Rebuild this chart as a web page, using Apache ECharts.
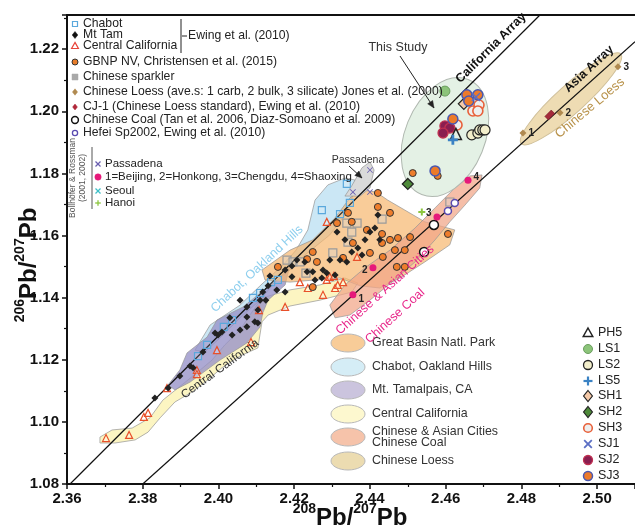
<!DOCTYPE html>
<html><head><meta charset="utf-8">
<script src="https://cdn.jsdelivr.net/npm/echarts/dist/echarts.min.js"></script>
<style>html,body{margin:0;padding:0;background:#fff}#c{width:635px;height:525px}</style>
</head><body><div id="c"></div>
<script>
// ---------- axes ----------
const xRange = [2.36, 2.51];
const yRange = [1.08, 1.231];
const tickStep = 0.02;

// ---------- reference arrays ----------
const californiaArray = [[2.3608, 1.080], [2.4849, 1.231]];
const asiaArray = [[2.380, 1.080], [2.510, 1.2224]];

// ---------- shaded fields (data coords) ----------
const centralCalRegion = [[2.3687,1.0951],[2.3719,1.0974],[2.3772,1.0980],[2.3819,1.1013],[2.3853,1.1070],[2.3893,1.1109],[2.3946,1.1161],[2.3983,1.1199],[2.4017,1.1248],[2.4057,1.1296],[2.4083,1.1344],[2.4115,1.1399],[2.4189,1.1425],[2.4268,1.1441],[2.4334,1.1463],[2.4368,1.1447],[2.4352,1.1418],[2.4268,1.1392],[2.4189,1.1373],[2.4131,1.1344],[2.4115,1.1322],[2.4104,1.1238],[2.4057,1.1212],[2.4009,1.1174],[2.3972,1.1135],[2.3930,1.1096],[2.3885,1.1064],[2.3846,1.1013],[2.3814,1.0967],[2.3780,1.0942],[2.3727,1.0932],[2.3687,1.0932]];
const chabotRegion = [[2.3938,1.1231],[2.3978,1.1312],[2.4057,1.1376],[2.4115,1.1444],[2.4168,1.1502],[2.4205,1.1553],[2.4236,1.1618],[2.4255,1.1714],[2.4289,1.1763],[2.4334,1.1785],[2.4360,1.1779],[2.4352,1.1714],[2.4334,1.1666],[2.4294,1.1602],[2.4228,1.1537],[2.4189,1.1489],[2.4149,1.1450],[2.4110,1.1392],[2.4057,1.1335],[2.4004,1.1270],[2.3964,1.1225]];
const mtTamRegion = [[2.3867,1.1119],[2.3898,1.1167],[2.3917,1.1222],[2.3970,1.1273],[2.3996,1.1328],[2.4065,1.1370],[2.4110,1.1415],[2.4162,1.1463],[2.4189,1.1505],[2.4176,1.1441],[2.4131,1.1392],[2.4117,1.1351],[2.4110,1.1306],[2.4075,1.1254],[2.4004,1.1199],[2.3925,1.1128],[2.3885,1.1103]];
const greatBasinRegion = [[2.4115,1.1489],[2.4189,1.1553],[2.4249,1.1586],[2.4308,1.1657],[2.4347,1.1721],[2.4379,1.1747],[2.4416,1.1740],[2.4447,1.1714],[2.4492,1.1682],[2.4545,1.1644],[2.4624,1.1618],[2.4611,1.1570],[2.4545,1.1515],[2.4479,1.1463],[2.4426,1.1431],[2.4374,1.1438],[2.4321,1.1463],[2.4255,1.1457],[2.4189,1.1450],[2.4123,1.1457]];
const asianCitiesRegion = [[2.4294,1.1376],[2.4334,1.1441],[2.4387,1.1496],[2.4453,1.1553],[2.4519,1.1624],[2.4572,1.1689],[2.4624,1.1753],[2.4664,1.1792],[2.4696,1.1795],[2.4690,1.1753],[2.4651,1.1698],[2.4611,1.1644],[2.4572,1.1586],[2.4519,1.1515],[2.4458,1.1450],[2.4400,1.1392],[2.4347,1.1344],[2.4308,1.1335]];
const passadenaRegion = [[2.4334,1.1727],[2.4352,1.1760],[2.4379,1.1818],[2.4400,1.1837],[2.4411,1.1811],[2.4400,1.1753],[2.4374,1.1727]];
const thisStudyCenter = [2.4598, 1.1917];
const loessCenter = [2.4931, 1.2040];

// ---------- literature data ----------
const chabot = [[2.4339,1.1766],[2.4347,1.1705],[2.4273,1.1682],[2.4321,1.1669],[2.4157,1.1457],[2.4139,1.1450],[2.4110,1.1415],[2.4091,1.1399],[2.4036,1.1328],[2.4014,1.1306],[2.3970,1.1248],[2.3946,1.1212]];
const mtTam = [[2.3832,1.1077],[2.3867,1.1109],[2.3898,1.1148],[2.3925,1.1180],[2.3933,1.1174],[2.3959,1.1225],[2.3991,1.1286],[2.3999,1.1280],[2.4009,1.1289],[2.4036,1.1280],[2.4057,1.1296],[2.4075,1.1370],[2.4075,1.1338],[2.4075,1.1306],[2.4096,1.1322],[2.4104,1.1318],[2.4104,1.1360],[2.4110,1.1392],[2.4117,1.1418],[2.4125,1.1392],[2.4131,1.1438],[2.4154,1.1425],[2.4176,1.1418],[2.4194,1.1467],[2.4194,1.1502],[2.4207,1.1521],[2.4228,1.1515],[2.4234,1.1483],[2.4249,1.1483],[2.4255,1.1457],[2.4273,1.1463],[2.4276,1.1489],[2.4286,1.1479],[2.4294,1.1521],[2.4313,1.1611],[2.4321,1.1521],[2.4339,1.1515],[2.4352,1.1547],[2.4368,1.1560],[2.4379,1.1537],[2.4387,1.1586],[2.4400,1.1611],[2.4413,1.1624],[2.4421,1.1666],[2.4426,1.1586],[2.4334,1.1586],[2.4308,1.1473],[2.4176,1.1489],[2.4136,1.1470],[2.4057,1.1392],[2.4030,1.1335]];
const centralCal = [[2.3703,1.0948],[2.3764,1.0958],[2.3803,1.1016],[2.3814,1.1029],[2.3864,1.1109],[2.3943,1.1167],[2.3943,1.1154],[2.3996,1.1231],[2.4086,1.1257],[2.4107,1.1360],[2.4176,1.1370],[2.4215,1.1450],[2.4236,1.1431],[2.4276,1.1409],[2.4286,1.1457],[2.4294,1.1467],[2.4305,1.1470],[2.4308,1.1431],[2.4315,1.1441],[2.4329,1.1450],[2.4286,1.1644],[2.4366,1.1531]];
const gbnp = [[2.4157,1.1499],[2.4234,1.1524],[2.4249,1.1547],[2.4260,1.1515],[2.4249,1.1434],[2.4313,1.1640],[2.4329,1.1528],[2.4342,1.1673],[2.4352,1.1644],[2.4355,1.1576],[2.4392,1.1618],[2.4421,1.1737],[2.4421,1.1692],[2.4453,1.1673],[2.4432,1.1605],[2.4432,1.1576],[2.4453,1.1586],[2.4474,1.1592],[2.4506,1.1595],[2.4400,1.1544],[2.4434,1.1531],[2.4466,1.1553],[2.4492,1.1553],[2.4471,1.1499],[2.4492,1.1499],[2.4606,1.1605],[2.4513,1.1801],[2.4579,1.1792]];
const sparkler = [[2.4181,1.1521],[2.4197,1.1515],[2.4215,1.1515],[2.4231,1.1479],[2.4302,1.1544],[2.4339,1.1640],[2.4352,1.1611],[2.4342,1.1579],[2.4366,1.1640],[2.4432,1.1653],[2.4611,1.1708]];
const chineseLoess = [{value:[2.4804,1.1930],name:'1'},{value:[2.4902,1.1995],name:'2'},{value:[2.5055,1.2143],name:'3'}];
const cj1 = [[2.4875,1.1988]];
const chineseCoal = [[2.4569,1.1634],[2.4543,1.1547]];
const hefei = [[2.4624,1.1705],[2.4606,1.1679]];
const passadena = [[2.4400,1.1811],[2.4355,1.1740],[2.4400,1.1740]];
const cities = [{value:[2.4355,1.1409],name:'1'},{value:[2.4408,1.1496],name:'2'},{value:[2.4577,1.1660],name:'3'},{value:[2.4659,1.1778],name:'4'}];
const seoul = [];
const hanoi = [[2.4537,1.1676]];

// ---------- this study ----------
const PH5 = [[2.4627,1.1927]];
const LS1 = [[2.4598,1.2065]];
const LS2 = [[2.4669,1.1924],[2.4685,1.1930],[2.4690,1.1940],[2.4698,1.1940],[2.4704,1.1940]];
const LS5 = [[2.4619,1.1908]];
const SH1 = [[2.4648,1.2024]];
const SH2 = [[2.4500,1.1766]];
const SH3 = [[2.4672,1.2001],[2.4688,1.2020],[2.4685,1.2001],[2.4630,1.1956]];
const SJ1 = [[2.4680,1.2046]];
const SJ2 = [[2.4598,1.1953],[2.4611,1.1946],[2.4593,1.1930]];
const SJ3 = [[2.4656,1.2053],[2.4685,1.2053],[2.4661,1.2033],[2.4619,1.1975],[2.4572,1.1808]];

// ---------- legend texts ----------
const litLegend = ['Chabot','Mt Tam','Central California','GBNP NV, Christensen et al. (2015)','Chinese sparkler','Chinese Loess (ave.s: 1 carb, 2 bulk, 3 silicate) Jones et al. (2000)','CJ-1 (Chinese Loess standard), Ewing et al. (2010)','Chinese Coal (Tan et al. 2006, Diaz-Somoano et al. 2009)','Hefei Sp2002, Ewing et al. (2010)'];
const brLegend = ['Passadena','1=Beijing, 2=Honkong, 3=Chengdu, 4=Shaoxing','Seoul','Hanoi'];
const fieldLegend = ['Great Basin Natl. Park','Chabot, Oakland Hills','Mt. Tamalpais, CA','Central California','Chinese & Asian Cities\nChinese Coal','Chinese Loess'];
const studyLegend = ['PH5','LS1','LS2','LS5','SH1','SH2','SH3','SJ1','SJ2','SJ3'];

const F = '"Liberation Sans", Arial, Helvetica, sans-serif';
const XPATH = 'path://M1,0L5,4L9,0L10,1L6,5L10,9L9,10L5,6L1,10L0,9L4,5L0,1Z';
const PLUS = 'path://M3.6,0H6.4V3.6H10V6.4H6.4V10H3.6V6.4H0V3.6H3.6Z';

function region(name, pts, fill, z) {
  return {type:'custom', name, coordinateSystem:'cartesian2d', silent:true, z, clip:true,
    data:[pts[0]],
    renderItem:(p, api)=>({type:'polygon', shape:{points:pts.map(q=>api.coord(q))},
      style:{fill, stroke:'rgba(150,150,150,0.9)', lineWidth:0.8}})};
}
function ell(name, center, rx, ry, rotDeg, fill, stroke, z) {
  return {type:'custom', name, coordinateSystem:'cartesian2d', silent:true, z, clip:true,
    data:[center],
    renderItem:(p, api)=>{const c = api.coord([api.value(0), api.value(1)]);
      return {type:'ellipse', x:c[0], y:c[1], rotation:rotDeg*Math.PI/180, shape:{cx:0,cy:0,rx,ry},
        style:{fill, stroke, lineWidth:1}};}};
}
function sc(name, data, symbol, size, color, border, bw, z, extra) {
  return Object.assign({type:'scatter', name, data, symbol, symbolSize:size, z:z||5, silent:true,
    itemStyle:{color, borderColor:border||color, borderWidth:bw||0, opacity:1}}, extra||{});
}
function line(name, pts) {
  return {type:'line', name, data:pts, symbol:'none', silent:true, z:3, clip:true,
    lineStyle:{color:'#111', width:1.2}};
}

// ---------- graphics (legends / annotations) ----------
const G = [];
function txt(x, y, text, o) {
  o = o || {};
  G.push({type:'text', x, y, z:100, rotation:(o.rot||0)*Math.PI/180, silent:true,
    style:{text, fill:o.color||'#222', font:`${o.weight||'normal'} ${o.size||13}px ${F}`,
      textAlign:o.align||'left', verticalAlign:'middle', textVerticalAlign:'middle', lineHeight:o.lh}});
}
function gl(x1,y1,x2,y2,stroke,w){G.push({type:'line',z:100,silent:true,shape:{x1,y1,x2,y2},style:{stroke:stroke||'#222',lineWidth:w||1}});}
function gcirc(x,y,r,fill,stroke,w){G.push({type:'circle',z:100,silent:true,shape:{cx:x,cy:y,r},style:{fill,stroke,lineWidth:w||1}});}
function grect(x,y,s,fill,stroke,w){G.push({type:'rect',z:100,silent:true,shape:{x:x-s/2,y:y-s/2,width:s,height:s},style:{fill,stroke,lineWidth:w||1}});}
function gpoly(pts,fill,stroke,w){G.push({type:'polygon',z:100,silent:true,shape:{points:pts},style:{fill,stroke,lineWidth:w||1}});}
function gtri(x,y,r,fill,stroke,w){gpoly([[x,y-r],[x+r*0.95,y+r*0.7],[x-r*0.95,y+r*0.7]],fill,stroke,w);}
function gdia(x,y,r,fill,stroke,w){gpoly([[x,y-r],[x+r*0.8,y],[x,y+r],[x-r*0.8,y]],fill,stroke,w);}
function gx(x,y,r,c,w){gl(x-r,y-r,x+r,y+r,c,w);gl(x-r,y+r,x+r,y-r,c,w);}
function gplus(x,y,r,c,w){gl(x-r,y,x+r,y,c,w);gl(x,y-r,x,y+r,c,w);}
function gell(x,y,rx,ry,fill){G.push({type:'ellipse',z:100,silent:true,shape:{cx:x,cy:y,rx,ry},style:{fill,stroke:'#b8b8b8',lineWidth:1}});}
function arrow(x1,y1,x2,y2){gl(x1,y1,x2,y2,'#222',1);const a=Math.atan2(y2-y1,x2-x1),L=7,W=3;
  gpoly([[x2,y2],[x2-L*Math.cos(a)+W*Math.sin(a),y2-L*Math.sin(a)-W*Math.cos(a)],[x2-L*Math.cos(a)-W*Math.sin(a),y2-L*Math.sin(a)+W*Math.cos(a)]],'#222','#222',0.5);}

// literature legend
const litY = [24,35,46,62,77,92,107,120,133];
litLegend.forEach((t,i)=>txt(83, litY[i], t, {size:12.2}));
grect(75,24,5,'#fff','#5aa8dc',1.2);
gdia(75,35,3.5,'#111','#111',0.5);
gtri(75,46,3.6,'#fff','#e8443a',1.2);
gcirc(75,62,3,'#e87d2a','#333',1);
grect(75,77,6,'#a9a9a9','#a9a9a9',0.5);
gdia(75,92,3.2,'#b08a50','#b08a50',0.5);
gdia(75,107,3,'#b0283a','#b0283a',0.5);
gcirc(75,120,3.4,'#fff','#111',1.5);
gcirc(75,133,2.6,'#fff','#5a4bb0',1.3);
gl(181,19,181,53,'#222',1);
gl(182,36,187,36,'#222',1);
txt(188,36,'Ewing et al. (2010)',{size:12.2});

// Bollhöfer & Rossman block
txt(73,178,'Bollhöfer & Rossman',{size:8.5,rot:90,align:'center',color:'#555'});
txt(83,178,'(2001, 2002)',{size:8.5,rot:90,align:'center',color:'#555'});
gl(92,147,92,209,'#555',1);
const brY = [164,177,191,203];
brLegend.forEach((t,i)=>txt(105, brY[i], t, {size:11.5}));
gx(98,164,2.5,'#6a5fb0',1.3);
gcirc(98,177,3.2,'#e6197a','#e6197a',0.5);
gx(98,191,2.5,'#3fc0c8',1.3);
gplus(98,203,2.8,'#8cc63f',1.3);

// field legend
const fieldY = [343,367,390,414,437,461];
const fieldCol = ['#f8cc98','#d5edf6','#cbc4de','#fdf8cf','#f6c3aa','#ecdcb1'];
fieldLegend.forEach((t,i)=>{gell(348,fieldY[i],17,9,fieldCol[i]);
  txt(372, fieldY[i], t, {size:12.4,color:'#333',lh:11});});

// this-study legend
const stY = [333,349,365,381,396,412,428,444,460,476];
studyLegend.forEach((t,i)=>txt(598, stY[i], t, {size:12.5,color:'#222'}));
gtri(588,333,5,'#fff','#222',1.5);
gcirc(588,349,4.5,'#8cc47a','#6a9e5e',1);
gcirc(588,365,4.5,'#f2eecb','#222',1.3);
gplus(588,381,4.5,'#3b82c4',2.2);
gdia(588,396,5.5,'#f5c9a8','#222',1.2);
gdia(588,412,5.5,'#4e8a3a','#222',1.2);
gcirc(588,428,4.3,'#eeeeee','#e8603a',1.6);
gx(588,444,3.8,'#5b6fc4',1.8);
gcirc(588,460,4.5,'#8a1e50','#c03050',1.3);
gcirc(588,476,4.5,'#ec7a2a','#4a58b0',1.5);

// annotations
txt(398,48,'This Study',{size:12.5,align:'center',color:'#333'});
arrow(400,56,434,108);
txt(358,160,'Passadena',{size:10.5,align:'center',color:'#333'});
arrow(349,166,362,178);
txt(491,48,'California Array',{size:12.5,rot:45,align:'center',weight:'bold',color:'#111'});
txt(589,69,'Asia Array',{size:12.5,rot:43,align:'center',weight:'bold',color:'#111'});
txt(590,108,'Chinese Loess',{size:13,rot:40,align:'center',color:'#b8924a'});
txt(257,269,'Chabot, Oakland Hills',{size:12.5,rot:43,align:'center',color:'#8ecfee'});
txt(220,369,'Central California',{size:12,rot:36,align:'center',color:'#333'});
txt(385,290,'Chinese & Asian Cities',{size:12.5,rot:42,align:'center',color:'#e8268a'});
txt(395,316,'Chinese Coal',{size:12.5,rot:42,align:'center',color:'#e8268a'});

// axis titles
const rich = {p:{fontSize:24,fontWeight:'bold',fontFamily:F,lineHeight:28,verticalAlign:'bottom'},
              s:{fontSize:14,fontWeight:'bold',fontFamily:F,lineHeight:28,verticalAlign:'top'}};
G.push({type:'text',x:27,y:265,z:100,rotation:Math.PI/2,silent:true,
  style:{text:'{s|206}{p|Pb/}{s|207}{p|Pb}',rich,fill:'#111',textAlign:'center',verticalAlign:'middle',textVerticalAlign:'middle'}});
G.push({type:'text',x:350,y:516,z:100,silent:true,
  style:{text:'{s|208}{p|Pb/}{s|207}{p|Pb}',rich,fill:'#111',textAlign:'center',verticalAlign:'middle',textVerticalAlign:'middle'}});

const labelNum = (pos, off)=>({show:true, formatter:'{b}', position:pos, offset:off, color:'#222', fontSize:10, fontWeight:'bold', fontFamily:F, distance:2});

const axisCommon = {
  axisLine:{show:true,onZero:false,lineStyle:{color:'#111',width:2}},
  axisTick:{show:true,inside:false,length:5,lineStyle:{color:'#111',width:1.5}},
  minorTick:{show:true,splitNumber:2,length:3,lineStyle:{color:'#111',width:1.2}},
  splitLine:{show:false},
  axisLabel:{color:'#111',fontSize:15,fontWeight:'bold',fontFamily:F,showMaxLabel:false,
    formatter:v=>v.toFixed(2)}
};

const option = {
  backgroundColor:'#fff',
  animation:false,
  grid:{left:67,right:0,top:15,bottom:41,containLabel:false},
  xAxis:[
    Object.assign({type:'value',min:xRange[0],max:xRange[1],interval:tickStep,position:'bottom'},axisCommon,
      {axisLabel:Object.assign({},axisCommon.axisLabel,{margin:7})}),
    {type:'value',min:xRange[0],max:xRange[1],position:'top',axisLine:{show:true,lineStyle:{color:'#111',width:2}},
      axisTick:{show:false},axisLabel:{show:false},splitLine:{show:false}}
  ],
  yAxis:Object.assign({type:'value',min:yRange[0],max:yRange[1],interval:tickStep},axisCommon,
      {axisLabel:Object.assign({},axisCommon.axisLabel,{margin:8})}),
  series:[
    region('Central California field', centralCalRegion, '#fcf5c2', 1),
    region('Chabot field', chabotRegion, 'rgba(200,230,244,0.95)', 1),
    region('Mt Tam field', mtTamRegion, 'rgba(150,145,200,0.78)', 1),
    region('Great Basin field', greatBasinRegion, 'rgba(246,182,110,0.7)', 1),
    region('Asian cities field', asianCitiesRegion, 'rgba(241,165,135,0.72)', 1),
    region('Passadena field', passadenaRegion, '#dadada', 1),
    ell('This Study field', thisStudyCenter, 40, 62, -22, '#e4f1e5', '#b0b8b0', 1),
    ell('Chinese Loess field', loessCenter, 67, 14, 42, '#eedcb3', '#d0c09a', 1),
    line('California Array', californiaArray),
    line('Asia Array', asiaArray),
    sc('Chabot', chabot, 'rect', 7, 'rgba(255,255,255,0.15)', '#5aa8dc', 1.2),
    sc('Sparkler', sparkler, 'rect', 8, 'rgba(215,215,215,0.35)', '#9a9a9a', 1.2),
    sc('Central California', centralCal, 'triangle', 7, 'rgba(255,255,255,0.3)', '#e8502a', 1.2),
    sc('GBNP', gbnp, 'circle', 7, '#ee7d2c', '#333', 1),
    sc('Mt Tam', mtTam, 'diamond', 7, '#222', '#222', 0),
    sc('Chinese Loess', chineseLoess, 'diamond', 7, '#b08a50', '#b08a50', 0, 6,
      {label:{show:true,formatter:'{b}',position:'right',distance:2,color:'#222',fontSize:10,fontWeight:'bold',fontFamily:F}}),
    sc('CJ-1', cj1, 'rect', [9,5], '#a52a3a', '#6a1a20', 0.5, 6, {symbolRotate:45}),
    sc('Chinese Coal', chineseCoal, 'circle', 9, '#fff', '#111', 1.5),
    sc('Hefei', hefei, 'circle', 7, '#fff', '#5a4bb0', 1.5),
    sc('Passadena', passadena, XPATH, 6, '#6a5fb0'),
    sc('Cities', cities.map((d,i)=>Object.assign({}, d, {label:[labelNum('right',[0,4]),labelNum('left',[0,2]),labelNum('left',[0,-4]),labelNum('right',[0,-3])][i]})), 'circle', 7, '#e6197a', '#e6197a', 0, 6),
    sc('Seoul', seoul, XPATH, 6, '#3fc0c8'),
    sc('Hanoi', hanoi, PLUS, 7, '#8cc63f'),
    sc('LS1', LS1, 'circle', 10, '#8cc47a', '#6a9e5e', 1, 7),
    sc('SH2', SH2, 'diamond', 11, '#4e8a3a', '#222', 1.2, 7),
    sc('SH1', SH1, 'diamond', 11, '#f5c9a8', '#222', 1.2, 7),
    sc('SH3', SH3, 'circle', 10, '#eeeeee', '#e8603a', 1.6, 7),
    sc('LS2', LS2, 'circle', 10, '#f2eecb', '#222', 1.2, 7),
    sc('SJ2', SJ2, 'circle', 10, '#8a1e50', '#c03050', 1.3, 7),
    sc('SJ3', SJ3, 'circle', 10, '#ec7a2a', '#4a58b0', 1.5, 7),
    sc('PH5', PH5, 'triangle', 11, 'rgba(255,255,255,0)', '#222', 1.5, 8),
    sc('LS5', LS5, PLUS, 10, '#3b82c4', '#3b82c4', 0, 8),
    sc('SJ1', SJ1, XPATH, 9, '#5b6fc4', '#5b6fc4', 0, 8)
  ],
  graphic:{elements:G}
};
const chart = echarts.init(document.getElementById('c'), null, {renderer:'canvas'});
chart.setOption(option);
</script></body></html>
